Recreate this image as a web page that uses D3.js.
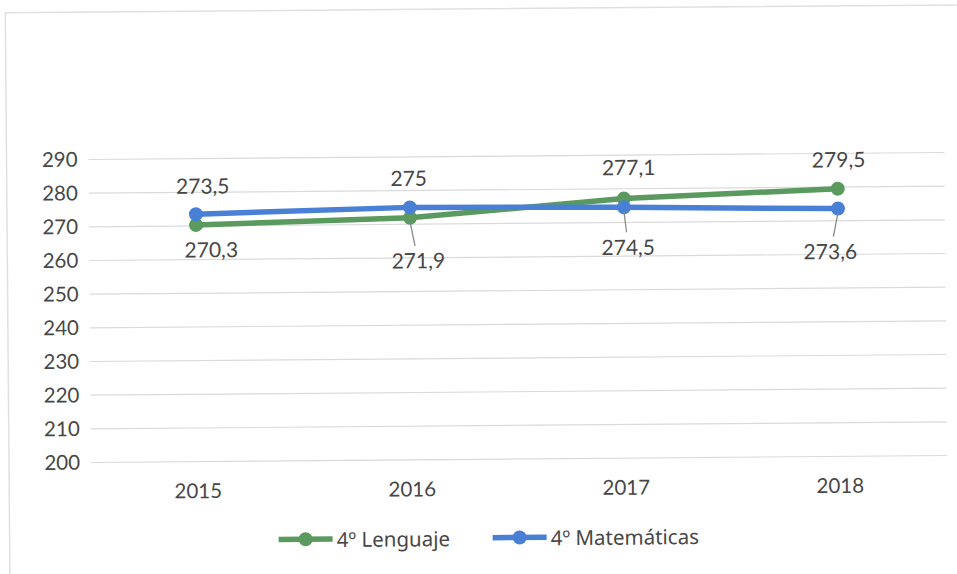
<!DOCTYPE html>
<html><head><meta charset="utf-8">
<script src="https://cdn.jsdelivr.net/npm/d3@7"></script>
<style>
html,body{margin:0;padding:0;background:#fff;}
text{font-family:Lato,"Open Sans",sans-serif;fill:#474747;}
</style></head>
<body>
<svg id="chart" width="957" height="574"></svg>
<script>
const years = ["2015","2016","2017","2018"];
const lenguaje = [270.3, 271.9, 277.1, 279.5];
const matematicas = [273.5, 275, 274.5, 273.6];
const yTicks = [200,210,220,230,240,250,260,270,280,290];
const seriesNames = ["4º Lenguaje","4º Matemáticas"];

const colors = ["#5b9a5f","#4a7fd6"];
// label offsets (styling): [dx, dy, leader]
const lengOff = [[15,24,false],[8,42,true],[5,-32,false],[1,-30,false]];
const mateOff = [[7,-29,false],[-1,-30,false],[4,39,true],[-8,42,true]];

const svg = d3.select("#chart");
svg.append("rect").attr("width",957).attr("height",574).attr("fill","#fff");
const g = svg.append("g").attr("transform","rotate(-0.47,91,462)");

g.append("rect").attr("x",9).attr("y",12).attr("width",990).attr("height",600)
 .attr("fill","none").attr("stroke","#e0e0e0").attr("stroke-width",1.5);

const x = d3.scaleBand().domain(years).range([91,947]);
const y = d3.scaleLinear().domain([200,290]).range([462.5,159.5]);
const xc = d => x(d) + x.bandwidth()/2;

// gridlines
g.append("g").selectAll("line").data(yTicks).join("line")
 .attr("x1",91).attr("x2",947).attr("y1",d=>y(d)).attr("y2",d=>y(d))
 .attr("stroke","#dadada").attr("stroke-width",1.2);

// y axis
const yAxis = g.append("g").attr("transform","translate(91,0)")
 .call(d3.axisLeft(y).tickValues(yTicks).tickSize(0).tickPadding(11));
yAxis.select(".domain").remove();
yAxis.selectAll("text").style("font-size","20.5px").style("font-family","Lato,sans-serif").attr("fill","#474747");

// x axis
const xAxis = g.append("g").attr("transform","translate(0,462.5)")
 .call(d3.axisBottom(x).tickSize(0).tickPadding(22));
xAxis.select(".domain").remove();
xAxis.selectAll("text").style("font-size","20.5px").style("font-family","Lato,sans-serif").attr("fill","#474747");

const line = d3.line().x((d,i)=>xc(years[i])).y(d=>y(d));
const all = [lenguaje, matematicas];
const offs = [lengOff, mateOff];

all.forEach((vals,si)=>{
  g.append("path").datum(vals).attr("d",line).attr("fill","none")
   .attr("stroke",colors[si]).attr("stroke-width",5.5).attr("stroke-linejoin","round");
});
all.forEach((vals,si)=>{
  g.append("g").selectAll("circle").data(vals).join("circle")
   .attr("cx",(d,i)=>xc(years[i])).attr("cy",d=>y(d)).attr("r",7).attr("fill",colors[si]);
});
all.forEach((vals,si)=>{
  vals.forEach((v,i)=>{
    const [dx,dy,leader] = offs[si][i];
    const px = xc(years[i]), py = y(v);
    if(leader){
      g.append("line").attr("x1",px).attr("y1",py+4).attr("x2",px+dx*0.6).attr("y2",py+dy-14)
       .attr("stroke","#8a8a8a").attr("stroke-width",1.3);
    }
    g.append("text").attr("x",px+dx).attr("y",py+dy).attr("text-anchor","middle")
     .attr("dominant-baseline","central").style("font-size","21px").text(String(v).replace(".",","));
  });
});

// legend
const leg = [{x:278,tx:336},{x:492,tx:550}];
leg.forEach((l,i)=>{
  const gl = g.append("g");
  gl.append("line").attr("x1",l.x).attr("x2",l.x+54).attr("y1",541).attr("y2",541)
   .attr("stroke",colors[i]).attr("stroke-width",5.5);
  gl.append("circle").attr("cx",l.x+27).attr("cy",541).attr("r",7).attr("fill",colors[i]);
  gl.append("text").attr("x",l.tx).attr("y",541).attr("dominant-baseline","central")
   .style("font-family","'Noto Sans',sans-serif").style("font-size","20.5px").text(seriesNames[i]);
});
</script>
</body></html>
